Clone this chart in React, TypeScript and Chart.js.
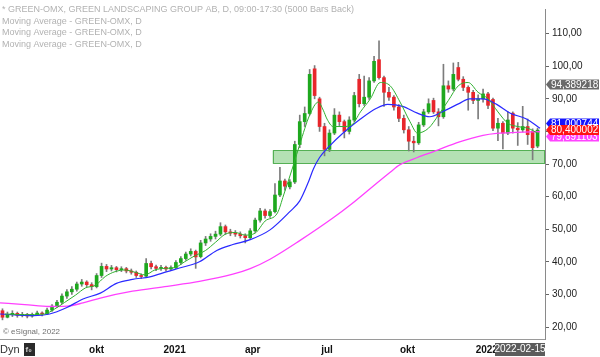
import React, { useEffect, useRef } from 'react';
import { Chart, registerables } from 'chart.js';

Chart.register(...registerables);

const FONT = "'Liberation Sans', Arial, sans-serif";

// ---- Candles (one bar per ~4 trading days) ----
const opens = [
  25.0, 23.0, 23.8, 24.2, 23.6, 23.9, 23.4, 23.8, 24.3, 24.0,
  25.2, 26.4, 27.6, 29.5, 30.8, 31.6, 33.2, 33.8, 33.0, 32.4,
  35.8, 38.6, 37.8, 38.2, 37.6, 37.9, 37.2, 36.8, 35.8, 35.6,
  39.5, 38.5, 38.0, 38.3, 37.8, 38.2, 39.8, 41.0, 42.4, 43.2,
  41.6, 45.8, 47.0, 47.8, 48.5, 50.8, 49.2, 48.8, 48.5, 48.0,
  47.4, 49.5, 52.8, 55.6, 54.2, 55.4, 60.5, 64.8, 63.0, 64.5,
  76.0, 83.0, 85.5, 99.2, 90.0, 81.5, 74.5, 79.5, 85.0, 83.0,
  80.0, 83.5, 96.0, 88.5, 90.5, 95.5, 102.0, 96.5, 92.0, 90.5,
  87.5, 84.0, 80.5, 77.0, 76.5, 82.0, 86.0, 89.5, 86.0, 84.5,
  94.0, 93.0, 99.6, 96.0, 93.5, 92.0, 89.5, 90.0, 91.5, 89.8,
  81.0, 82.5, 79.5, 85.6, 81.0, 80.5, 81.5, 80.0, 75.5,
];
const highs = [
  25.6, 24.6, 25.0, 24.6, 24.5, 24.2, 24.3, 24.9, 24.7, 25.8,
  26.9, 28.2, 30.2, 31.5, 32.4, 33.8, 34.6, 34.2, 33.6, 36.4,
  39.6, 39.2, 38.9, 38.6, 38.5, 38.3, 37.8, 37.2, 36.3, 41.0,
  40.2, 39.0, 38.9, 38.7, 38.8, 40.4, 41.6, 43.0, 44.0, 43.6,
  46.6, 47.8, 48.6, 49.4, 52.0, 51.3, 50.0, 49.6, 49.2, 48.6,
  50.2, 53.4, 56.4, 56.2, 56.0, 64.0, 69.0, 65.4, 65.2, 77.0,
  85.0, 87.5, 99.0, 100.2, 90.5, 82.5, 80.5, 87.0, 86.0, 83.5,
  84.5, 92.0, 97.5, 97.0, 96.5, 103.0, 107.8, 97.0, 93.5, 91.0,
  88.2, 85.0, 81.5, 78.5, 82.8, 86.8, 90.0, 90.2, 87.0, 100.6,
  95.5, 101.0, 101.2, 96.8, 94.0, 92.6, 91.2, 93.0, 92.0, 90.2,
  84.0, 83.0, 86.0, 86.0, 82.7, 87.7, 83.8, 80.8, 81.0,
];
const lows = [
  22.2, 22.8, 23.2, 23.0, 23.1, 22.8, 23.0, 23.5, 23.4, 23.8,
  24.8, 26.0, 27.2, 28.8, 30.0, 31.0, 32.5, 32.4, 31.4, 32.0,
  35.2, 37.0, 37.2, 36.9, 37.0, 36.6, 36.2, 35.2, 34.9, 35.4,
  37.8, 37.3, 37.4, 37.1, 37.4, 37.9, 39.2, 40.5, 41.8, 38.0,
  41.2, 45.0, 46.3, 47.0, 48.0, 48.4, 48.0, 47.8, 47.3, 45.8,
  47.0, 49.0, 52.2, 53.4, 53.6, 55.0, 60.0, 62.0, 62.4, 64.0,
  75.0, 81.5, 85.0, 90.0, 80.0, 72.5, 73.8, 79.0, 81.8, 78.0,
  79.2, 83.0, 87.5, 88.0, 89.8, 95.0, 96.0, 87.7, 89.5, 86.5,
  83.0, 79.5, 74.0, 73.7, 76.0, 81.5, 85.5, 85.5, 81.7, 84.0,
  92.0, 92.5, 95.5, 92.5, 86.5, 88.5, 83.8, 89.0, 87.0, 80.2,
  77.2, 74.6, 79.0, 79.5, 75.7, 79.8, 76.0, 71.3, 75.0,
];
const closes = [
  23.0, 23.8, 24.2, 23.6, 23.9, 23.4, 23.8, 24.3, 24.0, 25.2,
  26.4, 27.6, 29.5, 30.8, 31.6, 33.2, 33.8, 33.0, 32.4, 35.8,
  38.6, 37.8, 38.2, 37.6, 37.9, 37.2, 36.8, 35.8, 35.5, 39.5,
  38.5, 38.0, 38.3, 37.8, 38.2, 39.8, 41.0, 42.4, 43.2, 41.5,
  45.8, 47.0, 47.8, 48.5, 50.8, 49.2, 48.8, 48.5, 48.0, 47.4,
  49.5, 52.8, 55.6, 54.2, 55.4, 60.5, 64.8, 63.2, 64.5, 76.0,
  83.0, 85.5, 97.5, 91.0, 81.5, 74.5, 79.5, 85.0, 83.0, 80.0,
  83.5, 91.0, 88.5, 90.5, 95.5, 101.5, 96.5, 92.0, 90.5, 87.5,
  84.0, 80.5, 77.0, 76.5, 82.0, 86.0, 88.5, 86.0, 84.5, 94.0,
  93.0, 97.5, 96.0, 93.5, 92.0, 89.5, 90.0, 91.5, 88.0, 81.0,
  82.5, 79.5, 83.5, 81.0, 80.5, 81.5, 79.0, 75.0, 80.4,
];

// ---- Moving averages (trading-day index, value) ----
const greenMaDay = [4, 20, 36, 44, 52, 61, 69, 77, 85, 93, 101, 109, 117, 125, 133, 141, 149, 157, 166, 174, 182, 190, 198, 206, 214, 224, 229, 237, 242, 250, 257, 261, 264, 269, 277, 284, 291, 299, 307, 315, 323, 331, 337, 346, 354, 362, 370, 378, 386, 394, 402, 410, 418, 426, 434];
const greenMaVal = [24.0, 23.8, 24.0, 25.5, 27.5, 29.8, 32.0, 32.8, 35.5, 37.0, 37.5, 36.8, 36.0, 37.5, 38.0, 38.2, 40.0, 41.8, 43.5, 46.0, 48.5, 49.0, 48.2, 48.8, 52.5, 55.0, 60.5, 69.8, 76.0, 85.0, 89.0, 86.5, 83.8, 81.5, 81.5, 82.0, 86.0, 90.0, 95.0, 94.0, 89.0, 83.0, 79.5, 81.0, 85.0, 89.5, 94.0, 95.0, 92.0, 90.0, 86.0, 82.5, 81.5, 81.0, 79.5];

const blueMaDay = [0, 27, 40, 54, 67, 81, 94, 107, 121, 135, 148, 161, 175, 188, 202, 218, 234, 242, 249, 253, 258, 266, 277, 291, 304, 313, 325, 337, 347, 358, 371, 379, 390, 401, 412, 425, 436];
const blueMaVal = [24.0, 23.5, 24.0, 26.0, 28.6, 30.4, 33.4, 34.6, 35.4, 37.0, 38.4, 40.0, 43.5, 45.3, 46.8, 49.8, 55.4, 58.7, 64.5, 68.5, 72.0, 75.5, 79.5, 83.8, 87.1, 88.3, 87.7, 85.6, 84.5, 86.2, 88.6, 90.0, 90.0, 88.3, 85.6, 83.8, 81.0];

const pinkMaDay = [0, 20, 40, 54, 67, 81, 107, 135, 161, 188, 202, 218, 242, 269, 283, 299, 315, 323, 337, 350, 371, 390, 401, 417, 436];
const pinkMaVal = [27.4, 26.9, 26.3, 26.4, 27.4, 28.9, 31.0, 32.5, 34.0, 36.2, 37.9, 40.8, 46.5, 53.5, 57.5, 62.5, 67.5, 69.8, 72.0, 73.8, 76.8, 78.8, 79.4, 79.7, 79.9];

// ---- Axis ticks ----
const monthTickDay = [78, 141, 204, 264, 329, 393];
const monthTickLabel = ['okt', '2021', 'apr', 'jul', 'okt', '2022'];
const priceTicks = [20, 30, 40, 50, 60, 70, 80, 90, 100, 110];

// ---- Support zone and last values ----
const supportStartDay = 220;
const supportBottom = 70.1;
const supportTop = 74.2;
const lastClose = 80.400002;
const lastBlue = 81.000744;
const lastPink = 79.891103;
const markerPrice = 94.389218;
const lastDate = '2022-02-15';

const legendLines = [
  '* GREEN-OMX, GREEN LANDSCAPING GROUP AB, D, 09:00-17:30 (5000 Bars Back)',
  'Moving Average - GREEN-OMX, D',
  'Moving Average - GREEN-OMX, D',
  'Moving Average - GREEN-OMX, D',
];

function fmt(v: number, d = 2) {
  return v.toFixed(d).replace('.', ',');
}

function tag(ctx: CanvasRenderingContext2D, xl: number, yc: number, color: string, text: string) {
  ctx.beginPath();
  ctx.moveTo(xl, yc);
  ctx.lineTo(xl + 4, yc - 5);
  ctx.lineTo(599, yc - 5);
  ctx.lineTo(599, yc + 5);
  ctx.lineTo(xl + 4, yc + 5);
  ctx.closePath();
  ctx.fillStyle = color;
  ctx.fill();
  ctx.fillStyle = '#ffffff';
  ctx.font = `10px ${FONT}`;
  ctx.textAlign = 'left';
  ctx.textBaseline = 'middle';
  ctx.fillText(text, xl + 5, yc + 0.5);
}

export default function App() {
  const ref = useRef<HTMLCanvasElement>(null);

  useEffect(() => {
    document.body.style.margin = '0';
    const canvas = ref.current;
    if (!canvas) return;

    const barDay = closes.map((_, i) => 2 + 4 * i);
    const pts = (d: number[], v: number[]) => d.map((x, i) => ({ x, y: v[i] }));
    const up = '#1ea81e';
    const down = '#e8262b';

    const overlay = {
      id: 'overlay',
      beforeDatasetsDraw(chart: any) {
        const { ctx, chartArea, scales } = chart;
        const x = scales.x;
        const y = scales.y;
        const x0 = x.getPixelForValue(supportStartDay);
        const yT = y.getPixelForValue(supportTop);
        const yB = y.getPixelForValue(supportBottom);
        ctx.save();
        ctx.fillStyle = 'rgba(130,205,130,0.6)';
        ctx.fillRect(x0, yT, chartArea.right - x0, yB - yT);
        ctx.strokeStyle = '#55b055';
        ctx.lineWidth = 1;
        ctx.strokeRect(Math.round(x0) + 0.5, Math.round(yT) + 0.5, chartArea.right - Math.round(x0) - 1, Math.round(yB - yT));
        ctx.restore();
      },
      afterDraw(chart: any) {
        const { ctx, chartArea, scales } = chart;
        const y = scales.y;
        ctx.save();
        // legend texts
        ctx.font = `9px ${FONT}`;
        ctx.fillStyle = '#b2b2b2';
        ctx.textAlign = 'left';
        ctx.textBaseline = 'middle';
        const ly = [9.5, 21.5, 33, 44.5];
        legendLines.forEach((t, i) => ctx.fillText(t, 2, ly[i]));
        // copyright
        ctx.font = `8px ${FONT}`;
        ctx.fillStyle = '#707070';
        ctx.fillText('\u00A9 eSignal, 2022', 3, 332);
        // Dyn + icon
        ctx.font = `11px ${FONT}`;
        ctx.fillStyle = '#333333';
        ctx.fillText('Dyn', 0, 349.5);
        ctx.fillStyle = '#2a2a2a';
        ctx.fillRect(24, 343, 11, 13);
        ctx.fillStyle = '#d0d0d0';
        ctx.font = `bold 8px ${FONT}`;
        ctx.fillText('f\u2080', 25.5, 349.5);
        // right-side value tags
        const xl = chartArea.right + 1;
        tag(ctx, xl, y.getPixelForValue(markerPrice), '#6a6a6a', fmt(markerPrice, 6));
        const yr = y.getPixelForValue(lastClose);
        tag(ctx, xl, yr + 6.5, '#ff44ff', fmt(lastPink, 6));
        tag(ctx, xl, yr - 6.5, '#1414ff', fmt(lastBlue, 6));
        tag(ctx, xl, yr, '#ff1414', fmt(lastClose, 6));
        // date box
        ctx.fillStyle = '#5c5c5c';
        ctx.fillRect(chartArea.right - 50, 343, 50, 13);
        ctx.fillStyle = '#ffffff';
        ctx.font = `10px ${FONT}`;
        ctx.textAlign = 'center';
        ctx.fillText(lastDate, chartArea.right - 25, 349.5);
        ctx.restore();
      },
    };

    const chart = new Chart(canvas, {
      type: 'bar',
      data: {
        datasets: [
          {
            type: 'line',
            data: pts(greenMaDay, greenMaVal),
            borderColor: '#30b030',
            borderWidth: 1,
            pointRadius: 0,
            cubicInterpolationMode: 'monotone',
            order: 0,
          },
          {
            type: 'line',
            data: pts(blueMaDay, blueMaVal),
            borderColor: '#2a2aff',
            borderWidth: 1.2,
            pointRadius: 0,
            cubicInterpolationMode: 'monotone',
            order: 0,
          },
          {
            type: 'line',
            data: pts(pinkMaDay, pinkMaVal),
            borderColor: '#ff40ff',
            borderWidth: 1.3,
            pointRadius: 0,
            cubicInterpolationMode: 'monotone',
            order: 0,
          },
          {
            type: 'bar',
            data: barDay.map((d, i) => ({ x: d, y: [opens[i], closes[i]] })),
            backgroundColor: closes.map((c, i) => (c >= opens[i] ? up : down)),
            barThickness: 3,
            grouped: false,
            order: 1,
          },
          {
            type: 'bar',
            data: barDay.map((d, i) => ({ x: d, y: [lows[i], highs[i]] })),
            backgroundColor: '#7c7c7c',
            barThickness: 1,
            grouped: false,
            order: 2,
          },
        ] as any,
      },
      options: {
        animation: false,
        responsive: false,
        maintainAspectRatio: false,
        events: [],
        layout: { padding: 0 },
        plugins: { legend: { display: false }, tooltip: { enabled: false } },
        scales: {
          x: {
            type: 'linear',
            min: 0,
            max: 440,
            offset: false,
            afterBuildTicks: (s: any) => {
              s.ticks = monthTickDay.map((v) => ({ value: v }));
            },
            afterFit: (s: any) => {
              s.height = 18;
            },
            grid: { drawOnChartArea: false, drawTicks: false },
            border: { display: true, color: '#9a9a9a' },
            ticks: {
              autoSkip: false,
              maxRotation: 0,
              padding: 5,
              color: '#111111',
              font: { family: FONT, size: 10, weight: 'bold' },
              callback: (v: any) => {
                const k = monthTickDay.indexOf(Number(v));
                return k >= 0 ? monthTickLabel[k] : '';
              },
            },
          },
          y: {
            type: 'linear',
            position: 'right',
            min: 16.33,
            max: 117.55,
            afterBuildTicks: (s: any) => {
              s.ticks = priceTicks.map((v) => ({ value: v }));
            },
            afterFit: (s: any) => {
              s.width = 55;
            },
            grid: { drawOnChartArea: false, drawTicks: true, tickLength: 4, color: '#666666' },
            border: { display: true, color: '#8a8a8a' },
            ticks: {
              padding: 3,
              color: '#222222',
              font: { family: FONT, size: 10 },
              callback: (v: any) => fmt(Number(v)),
            },
          },
        },
      } as any,
      plugins: [overlay],
    });

    return () => chart.destroy();
  }, []);

  return (
    <div style={{ width: 600, height: 357, background: '#ffffff' }}>
      <canvas ref={ref} width={600} height={357} style={{ display: 'block', width: 600, height: 357 }} />
    </div>
  );
}
